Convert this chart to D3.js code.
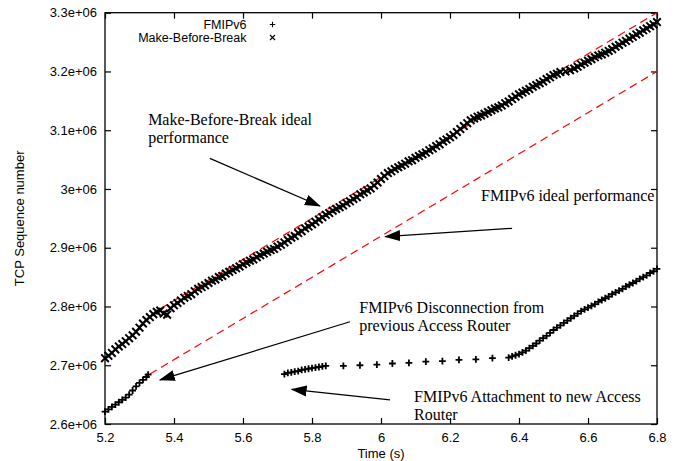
<!DOCTYPE html>
<html>
<head>
<meta charset="utf-8">
<style>
  html, body { margin: 0; padding: 0; background: #fff; }
  svg { display: block; }
  .tick text { font-family: "Liberation Sans", Arial, sans-serif; font-size: 13px; fill: #000; }
  .lab { font-family: "Liberation Sans", Arial, sans-serif; font-size: 13px; fill: #000; }
  .leg { font-family: "Liberation Sans", Arial, sans-serif; font-size: 12.5px; fill: #000; }
  .note { font-family: "Liberation Serif", "Times New Roman", serif; font-size: 16px; fill: #000; }
</style>
</head>
<body>
<div id="plot"></div>
<script src="https://cdn.jsdelivr.net/npm/d3@7"></script>
<script>
// sequence numbers below are in thousands (x1000)
var SEQ_UNIT = 1000;

// Make-Before-Break trace [time (s), seq/1000]
var mbbPoints = [
  [5.20,2712],[5.21,2716],[5.22,2721],[5.23,2727],[5.24,2732],[5.25,2736],[5.26,2741],[5.27,2746],
  [5.28,2751],[5.29,2757],[5.30,2764],[5.31,2771],[5.32,2777],[5.33,2782],[5.34,2787],[5.35,2791],
  [5.36,2793],[5.37,2788],[5.38,2786],[5.39,2797],[5.40,2802],[5.41,2806],[5.42,2810],[5.43,2815],
  [5.44,2818],[5.45,2821],[5.46,2826],[5.47,2830],[5.48,2833],[5.49,2836],[5.50,2840],[5.51,2844],
  [5.52,2846],[5.53,2850],[5.54,2852],[5.55,2856],[5.56,2859],[5.57,2862],[5.58,2865],[5.59,2868],
  [5.60,2872],[5.61,2875],[5.62,2878],[5.63,2880],[5.64,2884],[5.65,2887],[5.66,2890],[5.67,2893],
  [5.68,2896],[5.69,2898],[5.70,2902],[5.71,2905],[5.72,2909],[5.73,2913],[5.74,2917],[5.75,2920],
  [5.76,2925],[5.77,2928],[5.78,2933],[5.79,2936],[5.80,2940],[5.81,2944],[5.82,2948],[5.83,2952],
  [5.84,2956],[5.85,2959],[5.86,2963],[5.87,2966],[5.88,2969],[5.89,2972],[5.90,2976],[5.91,2979],
  [5.92,2983],[5.93,2986],[5.94,2991],[5.95,2994],[5.96,2998],[5.97,3001],[5.98,3006],[5.99,3011],
  [6.00,3017],[6.01,3022],[6.02,3027],[6.03,3030],[6.04,3034],[6.05,3037],[6.06,3040],[6.07,3043],
  [6.08,3047],[6.09,3049],[6.10,3053],[6.11,3056],[6.12,3059],[6.13,3062],[6.14,3066],[6.15,3069],
  [6.16,3073],[6.17,3076],[6.18,3081],[6.19,3084],[6.20,3088],[6.21,3092],[6.22,3097],[6.23,3102],
  [6.24,3107],[6.25,3112],[6.26,3117],[6.27,3120],[6.28,3123],[6.29,3125],[6.30,3128],[6.31,3131],
  [6.32,3134],[6.33,3137],[6.34,3139],[6.35,3142],[6.36,3146],[6.37,3149],[6.38,3153],[6.39,3157],
  [6.40,3161],[6.41,3164],[6.42,3167],[6.43,3170],[6.44,3174],[6.45,3177],[6.46,3180],[6.47,3183],
  [6.48,3187],[6.49,3190],[6.50,3194],[6.51,3196],[6.52,3199],[6.535,3200],[6.548,3202],
  [6.56,3205],[6.57,3208],[6.58,3212],[6.59,3215],[6.60,3218],[6.61,3221],[6.62,3224],[6.63,3227],
  [6.64,3229],[6.65,3232],[6.66,3235],[6.67,3238],[6.68,3242],[6.69,3245],[6.70,3249],[6.71,3252],
  [6.72,3256],[6.73,3259],[6.74,3263],[6.75,3266],[6.76,3270],[6.77,3273],[6.78,3277],[6.79,3280],
  [6.80,3284]
];

// FMIPv6 trace [time (s), seq/1000]
var fmipPoints = [
  [5.20,2621],[5.21,2625],[5.22,2629],[5.23,2633],[5.24,2637],[5.25,2641],[5.26,2645],[5.27,2650],
  [5.28,2657],[5.29,2664],[5.30,2670],[5.31,2675],[5.32,2680],[5.325,2684],
  [5.72,2685],[5.73,2687],[5.74,2688],[5.75,2689],[5.76,2690],[5.77,2692],[5.78,2693],[5.79,2694],
  [5.80,2695],[5.81,2696],[5.82,2697],[5.83,2698],[5.84,2699],
  [5.891,2699],[5.939,2700],[5.988,2701],[6.033,2703],[6.081,2704],[6.130,2706],[6.178,2707],
  [6.226,2709],[6.275,2710],[6.323,2712],
  [6.37,2713],[6.38,2715],[6.39,2717],[6.40,2719],[6.41,2722],[6.42,2725],[6.43,2729],[6.44,2733],
  [6.45,2737],[6.46,2742],[6.47,2746],[6.48,2750],[6.49,2755],[6.50,2760],[6.51,2764],[6.52,2768],
  [6.53,2772],[6.54,2776],[6.55,2780],[6.56,2784],[6.57,2788],[6.58,2792],[6.59,2795],[6.60,2798],
  [6.61,2801],[6.62,2804],[6.63,2808],[6.64,2811],[6.65,2814],[6.66,2817],[6.67,2821],[6.68,2824],
  [6.69,2827],[6.70,2830],[6.71,2834],[6.72,2837],[6.73,2840],[6.74,2843],[6.75,2847],[6.76,2850],
  [6.77,2853],[6.78,2857],[6.79,2860],[6.80,2864]
];

// ideal performance lines (red dashed), endpoints
var mbbIdeal = [[5.36, 2796], [6.80, 3300]];
var fmipIdeal = [[5.33, 2685], [6.80, 3200]];

// axes
var xDomain = [5.2, 6.8];
var yDomain = [2600, 3300];
var xTicks = [5.2, 5.4, 5.6, 5.8, 6.0, 6.2, 6.4, 6.6, 6.8];
var xTickLabels = ["5.2", "5.4", "5.6", "5.8", "6", "6.2", "6.4", "6.6", "6.8"];
var yTicks = [2600, 2700, 2800, 2900, 3000, 3100, 3200, 3300];
var yTickLabels = ["2.6e+06", "2.7e+06", "2.8e+06", "2.9e+06", "3e+06", "3.1e+06", "3.2e+06", "3.3e+06"];

var seriesNames = ["FMIPv6", "Make-Before-Break"];

// annotations: text lines anchored at [time, seq], arrows from -> to
var noteTexts = [
  { at: [5.325, 3109], lines: ["Make-Before-Break ideal", "performance"] },
  { at: [6.29, 2979], lines: ["FMIPv6 ideal performance"] },
  { at: [5.937, 2789], lines: ["FMIPv6 Disconnection from", "previous Access Router"] },
  { at: [6.096, 2637], lines: ["FMIPv6 Attachment to new Access", "Router"] }
];
var noteArrows = [
  [[5.504, 3052], [5.823, 2971]],
  [[6.38, 2933], [6.012, 2919]],
  [[5.91, 2774], [5.359, 2675]],
  [[6.026, 2641], [5.741, 2659]]
];

// dimensions
var svg_dx = 678, svg_dy = 461;
var margin = {top: 12.7, right: 21, bottom: 37, left: 105};
var chart_dx = svg_dx - margin.left - margin.right,
    chart_dy = svg_dy - margin.top - margin.bottom;

var xScale = d3.scaleLinear().domain(xDomain).range([0, chart_dx]);
var yScale = d3.scaleLinear().domain(yDomain).range([chart_dy, 0]);

var svg = d3.select("#plot").append("svg")
    .attr("width", svg_dx)
    .attr("height", svg_dy);

var defs = svg.append("defs");
defs.append("marker")
    .attr("id", "head")
    .attr("viewBox", "0 -6 16 12")
    .attr("refX", 15)
    .attr("refY", 0)
    .attr("markerUnits", "userSpaceOnUse")
    .attr("markerWidth", 16)
    .attr("markerHeight", 12)
    .attr("orient", "auto")
  .append("path")
    .attr("d", "M0,-5.5L16,0L0,5.5Z")
    .attr("fill", "#000");

var g = svg.append("g")
    .attr("transform", "translate(" + margin.left + "," + margin.top + ")");

// axes with inward ticks (mirrored on top/right like gnuplot)
var fmtX = function (d, i) { return xTickLabels[i]; };
var fmtY = function (d, i) { return yTickLabels[i]; };

g.append("g")
    .attr("transform", "translate(0," + chart_dy + ")")
    .call(d3.axisBottom(xScale).tickValues(xTicks).tickFormat(fmtX).tickSize(-6).tickPadding(9));
g.append("g")
    .call(d3.axisTop(xScale).tickValues(xTicks).tickFormat("").tickSize(-6));
g.append("g")
    .call(d3.axisLeft(yScale).tickValues(yTicks).tickFormat(fmtY).tickSize(-6).tickPadding(8));
g.append("g")
    .attr("transform", "translate(" + chart_dx + ",0)")
    .call(d3.axisRight(yScale).tickValues(yTicks).tickFormat("").tickSize(-6));

g.selectAll(".domain").remove();
g.selectAll(".tick line").attr("stroke", "#000").attr("stroke-width", 1.2);

g.append("rect")
    .attr("width", chart_dx)
    .attr("height", chart_dy)
    .attr("fill", "none")
    .attr("stroke", "#000")
    .attr("stroke-width", 1.3);

// axis titles
svg.append("text")
    .attr("class", "lab")
    .attr("x", margin.left + chart_dx / 2)
    .attr("y", 457.5)
    .attr("text-anchor", "middle")
    .text("Time (s)");
svg.append("text")
    .attr("class", "lab")
    .attr("transform", "translate(24," + (margin.top + chart_dy / 2) + ") rotate(-90)")
    .attr("text-anchor", "middle")
    .text("TCP Sequence number");

// ideal lines
var line = d3.line()
    .x(function (d) { return xScale(d[0]); })
    .y(function (d) { return yScale(d[1]); });

[mbbIdeal, fmipIdeal].forEach(function (seg) {
  g.append("path")
      .attr("d", line(seg))
      .attr("fill", "none")
      .attr("stroke", "#ff0000")
      .attr("stroke-width", 1.2)
      .attr("stroke-dasharray", "8,5");
});

// point symbols (drawn heavy: the original has many overlapping samples)
var plusPath = "M-3.4,0H3.4M0,-3.4V3.4";
var crossPath = "M-3.8,-3.8L3.8,3.8M-3.8,3.8L3.8,-3.8";

g.append("g").selectAll("path")
    .data(mbbPoints)
  .enter().append("path")
    .attr("d", crossPath)
    .attr("transform", function (d) { return "translate(" + xScale(d[0]) + "," + yScale(d[1]) + ")"; })
    .attr("stroke", "#000")
    .attr("stroke-width", 2);

g.append("g").selectAll("path")
    .data(fmipPoints)
  .enter().append("path")
    .attr("d", plusPath)
    .attr("transform", function (d) { return "translate(" + xScale(d[0]) + "," + yScale(d[1]) + ")"; })
    .attr("stroke", "#000")
    .attr("stroke-width", 1.8);

// annotations
noteArrows.forEach(function (a) {
  g.append("line")
      .attr("x1", xScale(a[0][0])).attr("y1", yScale(a[0][1]))
      .attr("x2", xScale(a[1][0])).attr("y2", yScale(a[1][1]))
      .attr("stroke", "#000")
      .attr("stroke-width", 1.2)
      .attr("marker-end", "url(#head)");
});

noteTexts.forEach(function (n) {
  var t = g.append("text")
      .attr("class", "note")
      .attr("x", xScale(n.at[0]))
      .attr("y", yScale(n.at[1]));
  n.lines.forEach(function (s, i) {
    t.append("tspan")
        .attr("x", xScale(n.at[0]))
        .attr("dy", i === 0 ? 0 : 18)
        .text(s);
  });
});

// legend (top, right aligned text + sample symbol)
var legend = svg.append("g");
seriesNames.forEach(function (name, i) {
  var yy = 24.5 + i * 13;
  legend.append("text")
      .attr("class", "leg")
      .attr("x", 246.5)
      .attr("y", yy + 4.3)
      .attr("text-anchor", "end")
      .text(name);
  legend.append("path")
      .attr("d", i === 0 ? "M-2.7,0H2.7M0,-2.7V2.7" : "M-2.5,-2.5L2.5,2.5M-2.5,2.5L2.5,-2.5")
      .attr("transform", "translate(272.5," + yy + ")")
      .attr("stroke", "#000")
      .attr("stroke-width", 1.1);
});
</script>
</body>
</html>
